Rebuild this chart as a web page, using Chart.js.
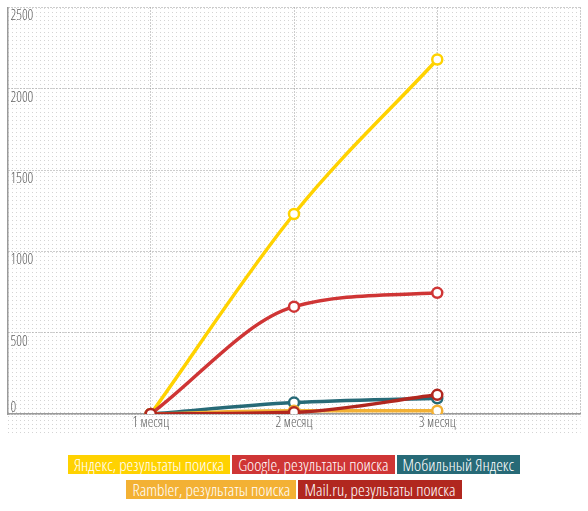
<!DOCTYPE html>
<html>
<head>
<meta charset="utf-8">
<script src="https://cdn.jsdelivr.net/npm/chart.js@4/dist/chart.umd.min.js"></script>
<style>
    body { margin: 0; background: #fff; }
    #wrap { position: absolute; left: 0; top: 0; width: 588px; height: 440px; }
    #legend {
        position: absolute; left: 0; top: 455px; width: 588px; text-align: center;
        font-family: 'Open Sans', sans-serif; font-stretch: condensed; font-weight: 300;
        font-size: 17px; line-height: 19px;
    }
    #legend span { display: inline-block; color: #fff; padding: 0 6px; margin: 0 1px 6px 1px; height: 19px; }
</style>
</head>
<body>
<div id="wrap"><canvas id="chart"></canvas></div>
<div id="legend"></div>
<script>
// Categories (first and last are empty edge slots)
const months = ['', '1 месяц', '2 месяц', '3 месяц', ''];

// Series values
const yandex  = [null, 0, 1230, 2180, null];
const google  = [null, 0, 660, 745, null];
const mobile  = [null, 0, 70, 97, null];
const rambler = [null, 0, 20, 20, null];
const mailru  = [null, 0, 10, 118, null];

const seriesNames = [
    'Яндекс, результаты поиска',
    'Google, результаты поиска',
    'Мобильный Яндекс',
    'Rambler, результаты поиска',
    'Mail.ru, результаты поиска'
];
const seriesColors = ['#ffd200', '#cf3535', '#276a77', '#f3b134', '#b1271f'];
const seriesData = [yandex, google, mobile, rambler, mailru];
// lower order is drawn on top
const seriesOrder = [4, 3, 2, 1, 0];

const yTicks = [0, 500, 1000, 1500, 2000, 2500];

const FAMILY = "'Open Sans', sans-serif";
const TICK_FONT = '300 condensed 14px ' + FAMILY;

/**
 * Dotted paper background behind the plot
 */
const dottedBackground = {
    id: 'dottedBackground',
    beforeDraw(chart) {
        const { ctx, chartArea } = chart;
        const tile = document.createElement('canvas');
        tile.width = 4;
        tile.height = 4;
        const tctx = tile.getContext('2d');
        tctx.fillStyle = '#d4d4d4';
        tctx.fillRect(0, 0, 1, 1);
        ctx.save();
        ctx.fillStyle = ctx.createPattern(tile, 'repeat');
        ctx.fillRect(chartArea.left - 1, chartArea.top, chartArea.right - chartArea.left + 1, chartArea.bottom - chartArea.top + 22);
        ctx.restore();
    }
};

/**
 * Y labels sit inside the plot, just under their grid line
 */
const innerYLabels = {
    id: 'innerYLabels',
    afterDraw(chart) {
        const { ctx, scales } = chart;
        const y = scales.y;
        ctx.save();
        ctx.font = TICK_FONT;
        ctx.fillStyle = '#5f5f5f';
        ctx.textAlign = 'left';
        y.ticks.forEach(t => {
            const py = y.getPixelForValue(t.value);
            if (t.value === 0) {
                ctx.textBaseline = 'bottom';
                ctx.fillText(String(t.value), chart.chartArea.left + 3, py + 1);
            } else {
                ctx.textBaseline = 'top';
                ctx.fillText(String(t.value), chart.chartArea.left + 3, py + 2);
            }
        });
        ctx.restore();
    }
};

const datasets = seriesData.map((data, i) => ({
    label: seriesNames[i],
    data: data,
    borderColor: seriesColors[i],
    backgroundColor: '#ffffff',
    pointBackgroundColor: '#ffffff',
    pointBorderColor: seriesColors[i],
    pointBorderWidth: 2.5,
    pointRadius: 5,
    borderWidth: 3.5,
    cubicInterpolationMode: 'monotone',
    spanGaps: true,
    fill: false,
    order: seriesOrder[i]
}));

new Chart(document.getElementById('chart'), {
    type: 'line',
    data: { labels: months, datasets: datasets },
    options: {
        responsive: true,
        maintainAspectRatio: false,
        animation: false,
        layout: { padding: { left: 4, right: 5, top: 4, bottom: 0 } },
        plugins: {
            legend: { display: false },
            tooltip: { enabled: false }
        },
        scales: {
            x: {
                offset: false,
                grid: { color: '#9a9a9a', lineWidth: 1, drawTicks: false },
                border: { display: true, color: '#9a9a9a', width: 1.5, dash: [1, 2] },
                ticks: {
                    color: '#5f5f5f',
                    font: { family: FAMILY, size: 14, weight: '300 condensed' },
                    padding: 1,
                    maxRotation: 0,
                    autoSkip: false
                },
                afterFit(scale) { scale.height = 26; }
            },
            y: {
                min: 0,
                max: 2500,
                afterBuildTicks(scale) {
                    scale.ticks = yTicks.map(v => ({ value: v }));
                },
                grid: { color: '#9a9a9a', lineWidth: 1, drawTicks: false },
                border: { display: true, color: '#9a9a9a', width: 1.5, dash: [1, 2] },
                ticks: { display: false },
                afterFit(scale) { scale.width = 0; }
            }
        }
    },
    plugins: [dottedBackground, innerYLabels]
});

// HTML legend with filled boxes, three on the first row
const legend = document.getElementById('legend');
seriesNames.forEach((name, i) => {
    const item = document.createElement('span');
    item.textContent = name;
    item.style.background = seriesColors[i];
    legend.appendChild(item);
    if (i === 2) legend.appendChild(document.createElement('br'));
});
</script>
</body>
</html>
